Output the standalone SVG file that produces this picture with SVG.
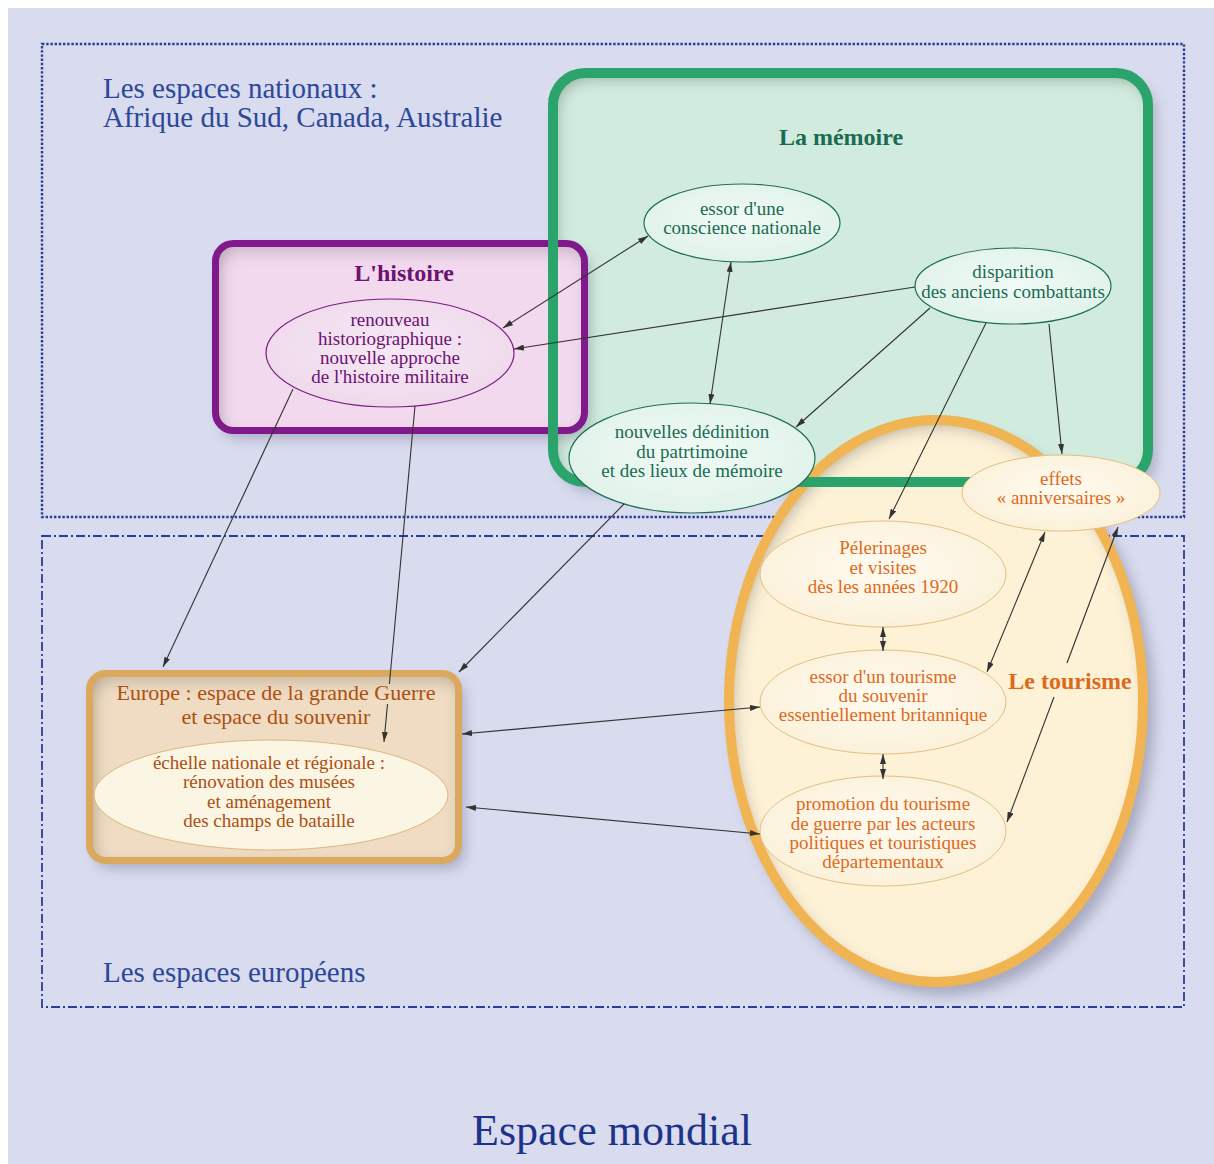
<svg xmlns="http://www.w3.org/2000/svg" width="1214" height="1164" viewBox="0 0 1214 1164">
<defs>
<style>
.t{font-family:"Liberation Serif","Times New Roman",serif;text-anchor:middle}
.zone{font-family:"Liberation Serif","Times New Roman",serif;fill:#2d4899}
.n{font-size:19px}
.ttl{font-size:24px;font-weight:bold}
.mem{fill:#1b6b52}
.his{fill:#6c1272}
.tou{fill:#dd6a1c}
.eur{fill:#ad4f10}
.c{fill:none;stroke:#333;stroke-width:1.1}
.ms{marker-start:url(#ah)}
.me{marker-end:url(#ah)}
.mnode{fill:url(#gMem);stroke:#1f6e55;stroke-width:1.2}
.tnode{fill:url(#gTou);stroke:#e2bf84;stroke-width:1}
</style>
<marker id="ah" viewBox="0 0 10 6" refX="10" refY="3" markerWidth="10" markerHeight="6" markerUnits="userSpaceOnUse" orient="auto-start-reverse">
<path d="M0,0 L10,3 L0,6 Z" fill="#333"/>
</marker>
<radialGradient id="gMem" cx="50%" cy="45%" r="60%"><stop offset="0" stop-color="#f1faf6"/><stop offset="1" stop-color="#dff2e9"/></radialGradient>
<radialGradient id="gTou" cx="50%" cy="45%" r="60%"><stop offset="0" stop-color="#fffbf1"/><stop offset="1" stop-color="#fbf0d8"/></radialGradient>
<radialGradient id="gHis" cx="50%" cy="45%" r="60%"><stop offset="0" stop-color="#f6e8f4"/><stop offset="1" stop-color="#eed8eb"/></radialGradient>
<filter id="inset" x="-5%" y="-5%" width="110%" height="110%">
<feFlood flood-color="#404040" flood-opacity="0.6" result="f"/>
<feComposite in="f" in2="SourceAlpha" operator="out" result="o"/>
<feGaussianBlur in="o" stdDeviation="8" result="b"/>
<feOffset in="b" dx="4" dy="6" result="ob"/>
<feComposite in="ob" in2="SourceAlpha" operator="in" result="s"/>
<feMerge><feMergeNode in="SourceGraphic"/><feMergeNode in="s"/></feMerge>
</filter>
<filter id="blur" x="-10%" y="-10%" width="120%" height="120%"><feGaussianBlur stdDeviation="7"/></filter>
</defs>

<rect x="0" y="0" width="1214" height="1164" fill="#ffffff"/>
<rect x="8" y="8" width="1206" height="1156" fill="#d9dbee"/>

<g id="zone-nationale">
<rect x="42" y="44" width="1142" height="473" fill="none" stroke="#2a3d98" stroke-width="2.4" stroke-dasharray="2.4,1.8"/>
<text class="zone" x="103" y="98" font-size="29">Les espaces nationaux :</text>
<text class="zone" x="103" y="127" font-size="29">Afrique du Sud, Canada, Australie</text>
</g>

<g id="zone-europeenne">
<rect x="42" y="536" width="1142" height="471" fill="none" stroke="#2a3d98" stroke-width="1.8" stroke-dasharray="9,3,2,3"/>
<text class="zone" x="103" y="982" font-size="29">Les espaces européens</text>
</g>

<g id="memoire">
<rect x="560" y="82" width="595" height="409" rx="32" fill="#5a5f7a" opacity="0.4" filter="url(#blur)"/>
<rect x="553" y="73" width="595" height="409" rx="32" fill="#d1ecdf" filter="url(#inset)"/>
</g>

<g id="tourisme">
<ellipse cx="944" cy="711" rx="210" ry="284" fill="#5a5f7a" opacity="0.4" filter="url(#blur)"/>
<ellipse cx="936" cy="701" rx="207" ry="281" fill="#fdf1d6" filter="url(#inset)"/>
<ellipse cx="936" cy="701" rx="207" ry="281" fill="none" stroke="#f1b452" stroke-width="10"/>
<text class="t ttl tou" x="1070" y="689">Le tourisme</text>
</g>

<g id="histoire">
<rect x="221" y="251" width="369" height="187" rx="18" fill="#5a5f7a" opacity="0.4" filter="url(#blur)"/>
<rect x="215.5" y="243.5" width="369" height="187" rx="18" fill="#f2d9ee" filter="url(#inset)"/>
<rect x="215.5" y="243.5" width="369" height="187" rx="18" fill="none" stroke="#80198c" stroke-width="7"/>
<text class="t ttl his" x="404" y="281">L'histoire</text>
</g>

<g id="memoire-cadre">
<rect x="553" y="73" width="595" height="409" rx="32" fill="none" stroke="#2ba46b" stroke-width="10"/>
<text class="t ttl mem" x="841" y="145" fill="#1f7a58">La mémoire</text>
</g>

<g id="europe">
<rect x="95" y="681" width="369" height="187" rx="16" fill="#5a5f7a" opacity="0.4" filter="url(#blur)"/>
<rect x="89.5" y="673.5" width="369" height="187" rx="16" fill="#efdcc2" filter="url(#inset)"/>
<rect x="89.5" y="673.5" width="369" height="187" rx="16" fill="none" stroke="#dba95e" stroke-width="7"/>
<text class="t eur" x="276" y="700" font-size="22">Europe : espace de la grande Guerre</text>
<text class="t eur" x="276" y="724" font-size="22">et espace du souvenir</text>
</g>

<g id="n-echelle">
<ellipse cx="271" cy="795" rx="177" ry="55" fill="#fbf5e4" stroke="#dcb77c" stroke-width="1"/>
<text class="t n eur" x="269" y="769">échelle nationale et régionale :</text>
<text class="t n eur" x="269" y="788">rénovation des musées</text>
<text class="t n eur" x="269" y="808">et aménagement</text>
<text class="t n eur" x="269" y="827">des champs de bataille</text>
</g>

<g id="n-renouveau">
<ellipse cx="390" cy="353" rx="124" ry="54" fill="url(#gHis)" stroke="#7a1a84" stroke-width="1.2"/>
<text class="t n his" x="390" y="326">renouveau</text>
<text class="t n his" x="390" y="345">historiographique :</text>
<text class="t n his" x="390" y="364">nouvelle approche</text>
<text class="t n his" x="390" y="383">de l'histoire militaire</text>
</g>

<g id="n-essor-conscience">
<ellipse cx="742" cy="223" rx="98" ry="39" class="mnode"/>
<text class="t n mem" x="742" y="215">essor d'une</text>
<text class="t n mem" x="742" y="234">conscience nationale</text>
</g>

<g id="n-disparition">
<ellipse cx="1013" cy="286" rx="98" ry="38" class="mnode"/>
<text class="t n mem" x="1013" y="278">disparition</text>
<text class="t n mem" x="1013" y="298">des anciens combattants</text>
</g>

<g id="n-nouvelles">
<ellipse cx="692" cy="458" rx="123" ry="55" class="mnode"/>
<text class="t n mem" x="692" y="438">nouvelles dédinition</text>
<text class="t n mem" x="692" y="458">du patrtimoine</text>
<text class="t n mem" x="692" y="477">et des lieux de mémoire</text>
</g>

<g id="n-effets">
<ellipse cx="1061" cy="493" rx="99" ry="38" class="tnode"/>
<text class="t n tou" x="1061" y="485">effets</text>
<text class="t n tou" x="1061" y="504">« anniversaires »</text>
</g>

<g id="n-pelerinages">
<ellipse cx="883" cy="574" rx="123" ry="53" class="tnode"/>
<text class="t n tou" x="883" y="554">Pélerinages</text>
<text class="t n tou" x="883" y="574">et visites</text>
<text class="t n tou" x="883" y="593">dès les années 1920</text>
</g>

<g id="n-essor-tourisme">
<ellipse cx="883" cy="702" rx="123" ry="52" class="tnode"/>
<text class="t n tou" x="883" y="683">essor d'un tourisme</text>
<text class="t n tou" x="883" y="702">du souvenir</text>
<text class="t n tou" x="883" y="721">essentiellement britannique</text>
</g>

<g id="n-promotion">
<ellipse cx="883" cy="831" rx="123" ry="55" class="tnode"/>
<text class="t n tou" x="883" y="810">promotion du tourisme</text>
<text class="t n tou" x="883" y="830">de guerre par les acteurs</text>
<text class="t n tou" x="883" y="849">politiques et touristiques</text>
<text class="t n tou" x="883" y="868">départementaux</text>
</g>

<g id="connectors">
<path class="c ms me" d="M648,236 L503,328"/>
<path class="c ms me" d="M731,262 L710,404"/>
<path class="c me" d="M915,287 L514,349"/>
<path class="c me" d="M930,308 L796,427"/>
<path class="c me" d="M986,323 L889,519"/>
<path class="c me" d="M1049,324 L1062,454"/>
<path class="c me" d="M293,389 L163,667"/>
<path class="c" d="M415,406 L389.4,684"/>
<path class="c me" d="M387.5,704 L384,742"/>
<path class="c me" d="M624,504 L459,672"/>
<path class="c ms me" d="M462,734 L760,707"/>
<path class="c ms me" d="M466,807 L760,834"/>
<path class="c ms me" d="M883,627 L883,651"/>
<path class="c ms me" d="M883,754 L883,779"/>
<path class="c ms me" d="M1045,532 L987,672"/>
<path class="c ms" d="M1118,527 L1067,663"/>
<path class="c me" d="M1054,697 L1007,822"/>
</g>

<text class="t" x="612" y="1145" font-size="44" fill="#1c3389">Espace mondial</text>
</svg>
